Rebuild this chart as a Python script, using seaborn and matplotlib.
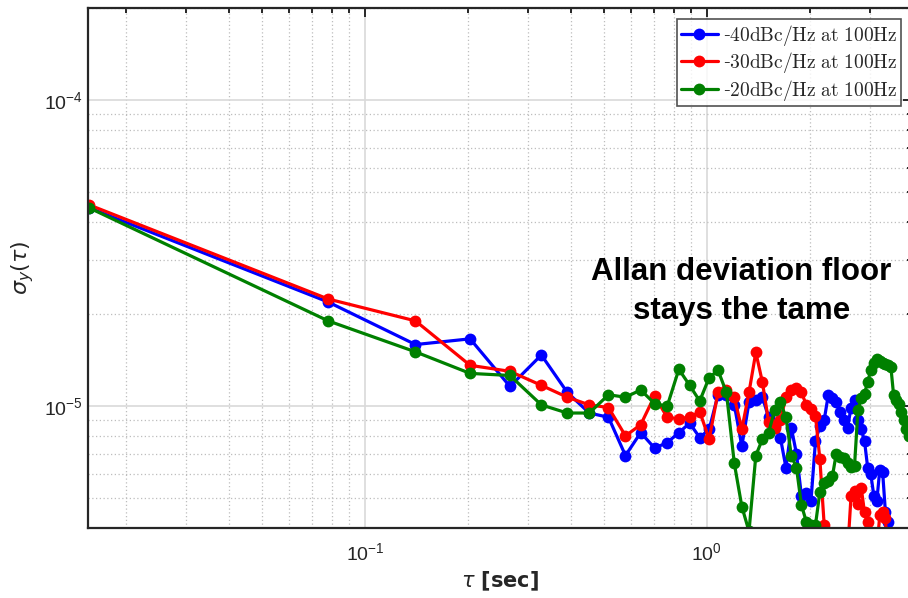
import numpy as np
import pandas as pd
import seaborn as sns
import matplotlib
matplotlib.use("Agg")
import matplotlib.pyplot as plt
from matplotlib.font_manager import FontProperties
from matplotlib.ticker import LogLocator, NullFormatter

# averaging times [sec]
tau = [0.0156, 0.0781, 0.1406, 0.2031, 0.2656, 0.3281, 0.3906, 0.4531,
       0.5156, 0.5781, 0.6406, 0.7031, 0.7656, 0.8281, 0.8906, 0.9531,
       1.0156, 1.0781, 1.1406, 1.2031, 1.2656, 1.3281, 1.3906, 1.4531,
       1.5156, 1.5781, 1.6406, 1.7031, 1.7656, 1.8281, 1.8906, 1.9531,
       2.0156, 2.0781, 2.1406, 2.2031, 2.2656, 2.3281, 2.3906, 2.4531,
       2.5156, 2.5781, 2.6406, 2.7031, 2.7656, 2.8281, 2.8906, 2.9531,
       3.0156, 3.0781, 3.1406, 3.2031, 3.2656, 3.3281, 3.3906, 3.4531,
       3.5156, 3.5781, 3.6406, 3.7031, 3.7656, 3.8281, 3.8906]

# allan deviation, in units of 1e-6
adev_40 = [44.5, 21.9, 15.9, 16.6, 11.6, 14.7, 11.1, 9.5,
           9.2, 6.9, 8.2, 7.3, 7.6, 8.2, 8.8, 7.9,
           8.4, 10.9, 10.9, 10.1, 7.4, 10.3, 10.5, 10.7,
           9.2, 8.6, 7.9, 6.3, 8.5, 7.0, 5.1, 5.2,
           4.9, 7.7, 8.6, 9.0, 10.9, 10.6, 10.3, 9.6,
           9.0, 8.5, 9.9, 10.5, 9.0, 8.4, 7.7, 6.3,
           6.0, 5.1, 4.9, 6.2, 6.1, 4.5, 4.2, 3.3,
           3.1, 2.9, 3.2, 3.0, 2.8, 3.1, 2.9]
adev_30 = [45.5, 22.4, 19.0, 13.6, 13.0, 11.7, 10.7, 10.1,
           9.9, 8.0, 8.7, 10.8, 9.2, 9.1, 9.2, 9.6,
           7.8, 11.1, 11.3, 10.7, 8.4, 11.1, 15.0, 12.0,
           8.9, 8.5, 9.0, 10.7, 11.3, 11.5, 11.1, 10.1,
           9.8, 9.3, 6.7, 4.1, 3.0, 2.7, 2.9, 3.1,
           2.8, 3.3, 5.1, 5.3, 4.8, 5.4, 4.5, 4.2,
           3.2, 2.9, 3.4, 4.4, 4.5, 4.3, 3.0, 2.8,
           3.1, 2.9, 3.2, 2.7, 3.0, 2.9, 3.1]
adev_20 = [44.5, 19.0, 15.05, 12.8, 12.6, 10.1, 9.5, 9.5,
           10.9, 10.7, 11.3, 10.2, 10.0, 13.2, 11.7, 10.4,
           12.4, 13.1, 11.1, 6.5, 4.7, 3.9, 6.9, 7.8,
           8.2, 9.7, 10.3, 9.2, 6.9, 6.3, 4.75, 4.2,
           4.1, 4.1, 5.25, 5.6, 5.7, 5.9, 7.0, 6.8,
           6.75, 6.5, 6.35, 6.4, 9.7, 10.6, 11.0, 12.0,
           13.1, 13.8, 14.3, 14.1, 13.8, 13.7, 13.6, 13.4,
           10.9, 10.5, 10.2, 9.6, 9.0, 8.45, 8.0]

labels = ["-40dBc/Hz at 100Hz", "-30dBc/Hz at 100Hz", "-20dBc/Hz at 100Hz"]
colors = ["#0000ff", "#ff0000", "#008000"]

frames = []
for lab, vals in zip(labels, [adev_40, adev_30, adev_20]):
    frames.append(pd.DataFrame({"tau": tau, "adev": np.array(vals) * 1e-6, "set": lab}))
df = pd.concat(frames, ignore_index=True)

sns.set_style("white")
plt.rcParams["font.family"] = ["Liberation Sans", "DejaVu Sans"]
plt.rcParams["mathtext.default"] = "regular"

fig = plt.figure(figsize=(9.08, 5.98), dpi=100)
ax = fig.add_axes([88 / 908, 70 / 598, 824 / 908, 520 / 598])
ax.set_xscale("log")
ax.set_yscale("log")

sns.lineplot(data=df, x="tau", y="adev", hue="set", palette=colors,
             marker="o", markersize=8.5, markeredgewidth=0, linewidth=2.3,
             estimator=None, sort=False, legend=False, ax=ax)

ax.set_xlim(0.0155, 3.98)
ax.set_ylim(4e-6, 2e-4)

ax.xaxis.set_minor_locator(LogLocator(base=10, subs=np.arange(2, 10)))
ax.yaxis.set_minor_locator(LogLocator(base=10, subs=np.arange(2, 10)))
ax.xaxis.set_minor_formatter(NullFormatter())
ax.yaxis.set_minor_formatter(NullFormatter())

ax.grid(which="major", color="#d9d9d9", linestyle="-", linewidth=1.2)
ax.grid(which="minor", color="#bdbdbd", linestyle=(0, (1, 2)), linewidth=0.9)
ax.set_axisbelow(True)

for s in ax.spines.values():
    s.set_color("#262626")
    s.set_linewidth(1.6)
ax.tick_params(which="both", direction="in", top=True, right=True,
               color="#262626", width=1.4)
ax.tick_params(which="major", length=6.5, labelsize=14, colors="#262626")
ax.tick_params(which="minor", length=3.6)
ax.tick_params(axis="x", pad=10)

ax.set_xlabel(r"$\mathit{\tau}$ [sec]", fontsize=15, fontweight="bold", labelpad=4)
ax.set_ylabel(r"$\mathit{\sigma}_\mathit{y}\mathit{(\tau)}$", fontsize=16, labelpad=6)
ax.xaxis.label.set_fontfamily(["DejaVu Sans"])
ax.yaxis.label.set_fontfamily(["DejaVu Sans"])

ax.text(0.793, 0.455, "Allan deviation floor\nstays the tame", transform=ax.transAxes,
        ha="center", va="center", fontsize=22.5, fontweight="bold",
        family=["Liberation Sans Narrow", "Liberation Sans", "DejaVu Sans"],
        linespacing=1.4, color="black")

leg_font = FontProperties(family=["DejaVu Serif"], size=14, math_fontfamily="cm")
leg_labels = ["-$\\mathrm{40dBc/Hz\\ at\\ 100Hz}$",
              "-$\\mathrm{30dBc/Hz\\ at\\ 100Hz}$",
              "-$\\mathrm{20dBc/Hz\\ at\\ 100Hz}$"]
leg = ax.legend(ax.lines[:3], leg_labels, loc="upper right",
                bbox_to_anchor=(901 / 908, 1 - 19 / 598),
                bbox_transform=fig.transFigure, borderaxespad=0,
                prop=leg_font, frameon=True, fancybox=False,
                handlelength=1.9, handletextpad=0.25, borderpad=0.2,
                labelspacing=0.12)
leg.get_frame().set_edgecolor("#262626")
leg.get_frame().set_linewidth(1.2)

fig.savefig("out.png", dpi=100)
